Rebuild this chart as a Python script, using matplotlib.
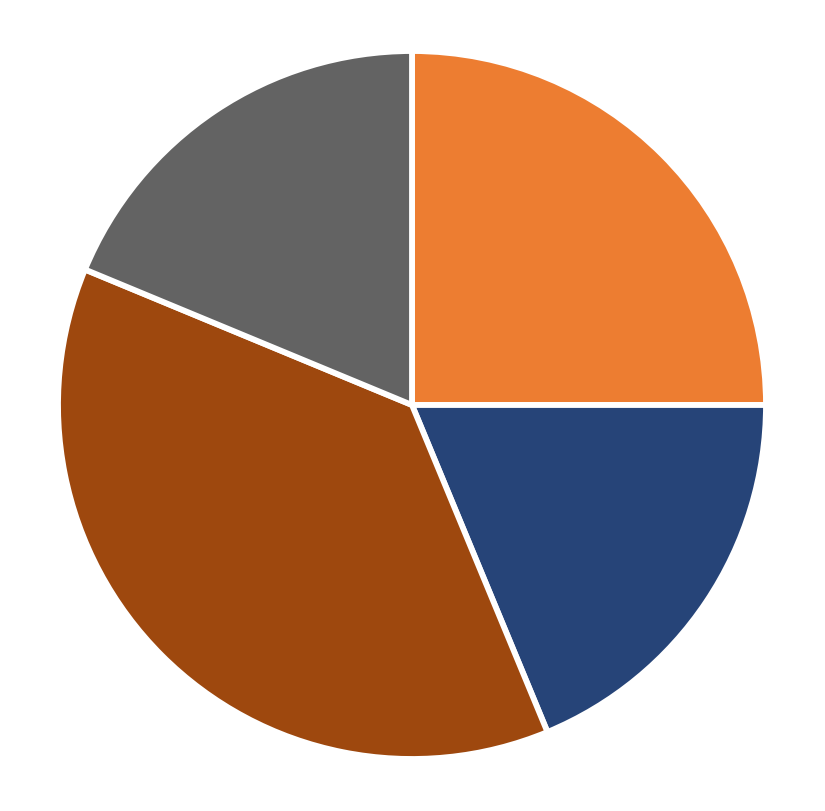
import matplotlib
matplotlib.use("Agg")
import matplotlib.pyplot as plt

# slice shares
labels = ["A", "B", "C", "D"]
values = [4, 3, 6, 3]
colors = ["#ED7D31", "#264478", "#9E480E", "#636363"]

W, H = 825, 812
fig = plt.figure(figsize=(W / 100, H / 100), dpi=100)

cx, cy, r = 412, 406, 354
ax = fig.add_axes([(cx - r) / W, (H - cy - r) / H, 2 * r / W, 2 * r / H])
ax.pie(values, colors=colors, startangle=90, counterclock=False, radius=1,
       wedgeprops=dict(edgecolor="white", linewidth=4.2))
ax.set_xlim(-1, 1)
ax.set_ylim(-1, 1)
ax.set_aspect("auto")
ax.axis("off")

fig.savefig("out.png", dpi=100, facecolor="white")
